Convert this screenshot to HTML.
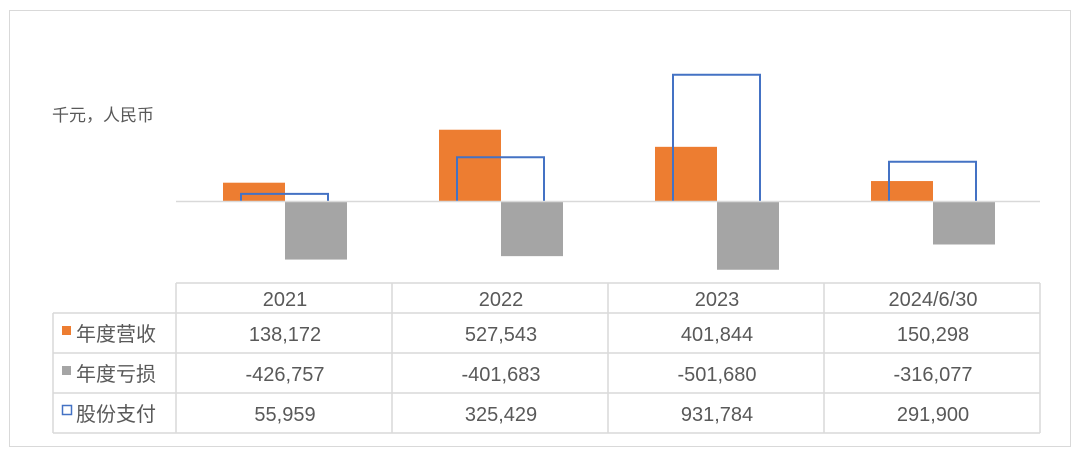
<!DOCTYPE html>
<html><head><meta charset="utf-8"><style>
body{margin:0;background:#fff;width:1080px;height:459px;overflow:hidden;font-family:"Liberation Sans","Noto Sans CJK SC",sans-serif}
svg text{fill:#595959}
</style></head><body>
<svg width="1080" height="459">
<rect x="9.5" y="10.5" width="1061" height="436" fill="#fff" stroke="#d9d9d9"/>
<text x="52" y="121" font-size="17">千元，人民币</text>
<g id="bars"></g>
<line x1="176" y1="201.5" x2="1040" y2="201.5" stroke="#d9d9d9" stroke-width="1.5"/>
<g id="table"></g>
</svg>
<script>
const categories=["2021","2022","2023","2024/6/30"];
const revenue=[138172,527543,401844,150298];
const loss=[-426757,-401683,-501680,-316077];
const sharePay=[55959,325429,931784,291900];
const seriesNames=["年度营收","年度亏损","股份支付"];
const NS="http://www.w3.org/2000/svg";
const x0=176,cw=216,zeroY=201.5,perPx=7350;
const yS=v=>zeroY-v/perPx;
const cx=i=>x0+cw*i+cw/2+1;
function mk(t,a,p){const e=document.createElementNS(NS,t);for(const k in a)e.setAttribute(k,a[k]);p.appendChild(e);return e;}
const g=document.getElementById('bars');
categories.forEach((c,i)=>{
 const c0=cx(i);
 let r=mk('rect',{x:c0-62,y:yS(revenue[i]),width:62,height:zeroY-yS(revenue[i]),fill:'#ed7d31'},g);
 
 
 r=mk('rect',{x:c0,y:zeroY,width:62,height:yS(loss[i])-zeroY,fill:'#a5a5a5'},g);
 
 
 const top=yS(sharePay[i]);
 r=mk('path',{d:`M${c0-44},${zeroY} V${top} H${c0+43} V${zeroY}`,fill:'none',stroke:'#4472c4','stroke-width':2},g);
 
 
});
const t=document.getElementById('table');
const st={stroke:'#d9d9d9','stroke-width':1.5};
const rows=[283,313,353,393,433];
mk('line',Object.assign({x1:176,y1:283,x2:1040,y2:283},st),t);
for(let k=1;k<rows.length;k++)mk('line',Object.assign({x1:53,y1:rows[k],x2:1040,y2:rows[k]},st),t);
mk('line',Object.assign({x1:53,y1:313,x2:53,y2:433},st),t);
for(let i=0;i<=4;i++)mk('line',Object.assign({x1:176+cw*i,y1:283,x2:176+cw*i,y2:433},st),t);
function tx(s,x,y,anchor,name){const e=mk('text',{x:x,y:y,'font-size':20,'text-anchor':anchor},t);e.textContent=s;
 
 }
const fmt=v=>(v<0?'-':'')+Math.abs(v).toLocaleString('en-US');
categories.forEach((c,i)=>{
 tx(c,cx(i),306,'middle','header-'+c);
 tx(fmt(revenue[i]),cx(i),341,'middle','revenue-value-'+c);
 tx(fmt(loss[i]),cx(i),381,'middle','loss-value-'+c);
 tx(fmt(sharePay[i]),cx(i),421,'middle','share-payment-value-'+c);
});
const ys=[341,381,421];
mk('rect',{x:62,y:326,width:9,height:9,fill:'#ed7d31'},t);
mk('rect',{x:62,y:366,width:9,height:9,fill:'#a5a5a5'},t);
mk('rect',{x:62.5,y:405.5,width:9,height:9,fill:'none',stroke:'#4472c4','stroke-width':1.5},t);
seriesNames.forEach((n,k)=>tx(n,76,ys[k],'start','legend-'+n));
</script>
</body></html>
